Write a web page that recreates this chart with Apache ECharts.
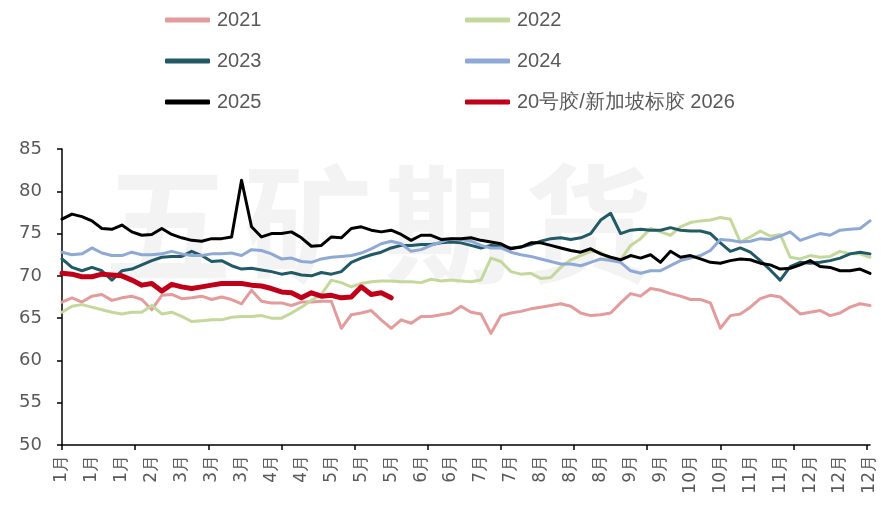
<!DOCTYPE html>
<html>
<head>
<meta charset="utf-8">
<script src="https://cdn.jsdelivr.net/npm/echarts@6/dist/echarts.min.js"></script>
<style>
  html, body { margin: 0; padding: 0; background: #fff; }
  #chart { width: 881px; height: 505px; }
</style>
</head>
<body>
<div id="chart"></div>
<script>
// one value every STEP trading days, day 0 = first trading day of the year
const STEP = 3
const LAST_DAY = 243

// month labels shown every 9 trading days, plus the last day
const tickLabels = ['1月', '1月', '1月', '2月', '3月', '3月', '3月', '4月', '4月', '5月', '5月', '5月', '6月', '6月',
  '7月', '7月', '8月', '8月', '8月', '9月', '9月', '10月', '10月', '11月', '11月', '12月', '12月', '12月']

const s2021 = [66.9, 67.4, 66.9, 67.6, 67.8, 67.1, 67.4, 67.6, 67.2, 66.0, 67.7, 67.8, 67.3, 67.4, 67.6, 67.2, 67.5, 67.2, 66.7, 68.3,
  67.0, 66.8, 66.8, 66.5, 66.9, 66.9, 67.0, 67.0, 63.8, 65.4, 65.6, 65.9, 64.8, 63.8, 64.8, 64.4, 65.2, 65.2, 65.4, 65.6,
  66.4, 65.7, 65.5, 63.2, 65.3, 65.6, 65.8, 66.1, 66.3, 66.5, 66.7, 66.4, 65.6, 65.3, 65.4, 65.6, 66.8, 67.9, 67.6, 68.5,
  68.3, 67.9, 67.6, 67.2, 67.2, 66.8, 63.8, 65.3, 65.5, 66.3, 67.3, 67.7, 67.5, 66.5, 65.5, 65.7, 65.9, 65.3, 65.6, 66.3,
  66.7, 66.5]

const s2022 = [65.7, 66.4, 66.6, 66.3, 66.0, 65.7, 65.5, 65.7, 65.7, 66.5, 65.5, 65.7, 65.2, 64.6, 64.7, 64.8, 64.8, 65.1, 65.2, 65.2,
  65.3, 65.0, 65.0, 65.6, 66.3, 67.1, 67.8, 69.5, 69.2, 68.7, 69.1, 69.3, 69.4, 69.4, 69.3, 69.3, 69.2, 69.6, 69.4, 69.5,
  69.4, 69.3, 69.5, 72.1, 71.7, 70.5, 70.2, 70.3, 69.7, 69.8, 71.0, 71.9, 72.4, 72.9, 72.8, 71.8, 71.9, 73.6, 74.4, 75.6,
  75.2, 74.8, 75.8, 76.3, 76.5, 76.6, 76.9, 76.7, 74.0, 74.6, 75.3, 74.7, 74.9, 72.2, 72.0, 72.4, 72.2, 72.3, 72.9, 72.6,
  72.6, 72.2]

const s2023 = [72.0, 71.0, 70.6, 71.0, 70.6, 69.5, 70.6, 70.8, 71.3, 71.8, 72.2, 72.3, 72.3, 72.9, 72.4, 71.7, 71.8, 71.2, 70.8, 70.9,
  70.7, 70.5, 70.2, 70.4, 70.1, 70.0, 70.4, 70.2, 70.5, 71.6, 72.1, 72.5, 72.8, 73.3, 73.6, 73.6, 73.7, 73.7, 73.9, 74.0,
  73.9, 73.6, 73.3, 73.6, 73.5, 73.3, 73.4, 73.7, 74.1, 74.4, 74.5, 74.3, 74.5, 75.0, 76.6, 77.4, 75.0, 75.4, 75.5, 75.4,
  75.4, 75.7, 75.4, 75.3, 75.3, 75.0, 73.9, 72.9, 73.3, 72.8, 71.8, 70.7, 69.5, 71.1, 71.6, 71.5, 71.6, 71.8, 72.1, 72.6,
  72.8, 72.6]

const s2024 = [72.8, 72.5, 72.6, 73.3, 72.7, 72.4, 72.4, 72.8, 72.5, 72.5, 72.6, 72.9, 72.6, 72.4, 72.4, 72.6, 72.6, 72.7, 72.4, 73.1,
  73.0, 72.6, 72.0, 72.1, 71.7, 71.6, 72.0, 72.2, 72.3, 72.4, 72.7, 73.2, 73.8, 74.1, 73.8, 72.9, 73.1, 73.6, 74.0, 74.4,
  74.3, 74.1, 73.6, 73.3, 73.3, 72.8, 72.5, 72.3, 72.0, 71.7, 71.4, 71.4, 71.2, 71.6, 72.0, 71.8, 71.6, 70.6, 70.3, 70.6,
  70.6, 71.2, 71.8, 72.1, 72.4, 73.0, 74.3, 74.2, 74.0, 74.1, 74.4, 74.3, 74.7, 75.2, 74.2, 74.6, 75.0, 74.8, 75.4, 75.5,
  75.6, 76.5]

const s2025 = [76.7, 77.3, 77.0, 76.5, 75.6, 75.5, 76.0, 75.2, 74.8, 74.9, 75.6, 74.9, 74.5, 74.2, 74.1, 74.4, 74.4, 74.6, 81.3, 75.8,
  74.6, 75.0, 75.0, 75.2, 74.5, 73.5, 73.6, 74.6, 74.5, 75.6, 75.8, 75.4, 75.2, 75.4, 74.9, 74.2, 74.8, 74.8, 74.3, 74.4,
  74.4, 74.5, 74.2, 74.0, 73.8, 73.2, 73.4, 73.9, 73.9, 73.6, 73.3, 73.0, 72.8, 73.2, 72.6, 72.2, 71.9, 72.4, 72.1, 72.5,
  71.6, 72.9, 72.2, 72.4, 72.0, 71.6, 71.5, 71.8, 72.0, 71.9, 71.5, 71.3, 70.8, 70.9, 71.3, 71.8, 71.1, 71.0, 70.6, 70.6,
  70.8, 70.3]

const s2026 = [70.3, 70.2, 69.9, 69.9, 70.2, 70.1, 70.0, 69.5, 68.9, 69.1, 68.2, 69.0, 68.7, 68.5, 68.7, 68.9, 69.1, 69.1, 69.1, 68.9,
  68.8, 68.5, 68.1, 68.0, 67.4, 68.0, 67.6, 67.7, 67.4, 67.5, 68.7, 67.8, 68.0, 67.4]

const seriesInfo = [
  { name: '2021', data: s2021, color: '#E39B9B', width: 3 },
  { name: '2022', data: s2022, color: '#C4D89B', width: 3 },
  { name: '2023', data: s2023, color: '#215A66', width: 3 },
  { name: '2024', data: s2024, color: '#8FA9D6', width: 3 },
  { name: '2025', data: s2025, color: '#000000', width: 3 },
  { name: '20号胶/新加坡标胶 2026', data: s2026, color: '#C00018', width: 5 }
]

const labelDays = tickLabels.map((_, i) => (i < tickLabels.length - 1 ? i * 9 : LAST_DAY))
const tickDays = []
for (let d = 0; d <= LAST_DAY; d += 22) tickDays.push(d)

const chart = echarts.init(document.getElementById('chart'))

const legendBase = {
  orient: 'vertical',
  top: 5,
  itemGap: 21,
  itemWidth: 45,
  itemHeight: 5,
  icon: 'roundRect',
  selectedMode: false,
  textStyle: { fontFamily: 'Liberation Sans', fontSize: 20, color: '#595959', padding: [0, 0, 0, 2] }
}

const option = {
  animation: false,
  backgroundColor: '#fff',
  graphic: ['五', '矿', '期', '货'].map((ch, k) => ({
    type: 'text',
    left: 104 + k * 140,
    top: 160,
    z: 0,
    silent: true,
    style: { text: ch, fontSize: 128, fontWeight: 'bold', fontFamily: 'Noto Sans CJK SC', fill: '#F3F3F3' }
  })),
  legend: [
    { ...legendBase, left: 160, data: ['2021', '2023', '2025'] },
    { ...legendBase, left: 460, data: ['2022', '2024', '20号胶/新加坡标胶 2026'] }
  ],
  grid: { left: 62, right: 11, top: 149, bottom: 60, containLabel: false },
  xAxis: {
    type: 'value',
    min: 0,
    max: LAST_DAY,
    splitLine: { show: false },
    axisLine: { show: true, lineStyle: { color: '#000', width: 1.5 } },
    axisTick: { show: true, customValues: tickDays, length: 5, lineStyle: { color: '#000', width: 1.5 } },
    axisLabel: {
      customValues: labelDays,
      rotate: 90,
      margin: 10,
      fontSize: 17,
      fontFamily: 'DejaVu Sans',
      color: '#595959',
      formatter: (val) => tickLabels[labelDays.indexOf(val)]
    }
  },
  yAxis: {
    type: 'value',
    min: 50,
    max: 85,
    interval: 5,
    splitLine: { show: false },
    axisLine: { show: true, lineStyle: { color: '#000', width: 1.5 } },
    axisTick: { show: true, length: 5, lineStyle: { color: '#000', width: 1.5 } },
    axisLabel: { fontSize: 18, fontFamily: 'DejaVu Sans', color: '#595959', margin: 20 }
  },
  series: seriesInfo.map((s) => ({
    name: s.name,
    type: 'line',
    color: s.color,
    symbol: 'none',
    lineStyle: { width: s.width, color: s.color, cap: 'round', join: 'round' },
    data: s.data.map((v, i) => [i * STEP, v])
  }))
}

chart.setOption(option)
</script>
</body>
</html>
